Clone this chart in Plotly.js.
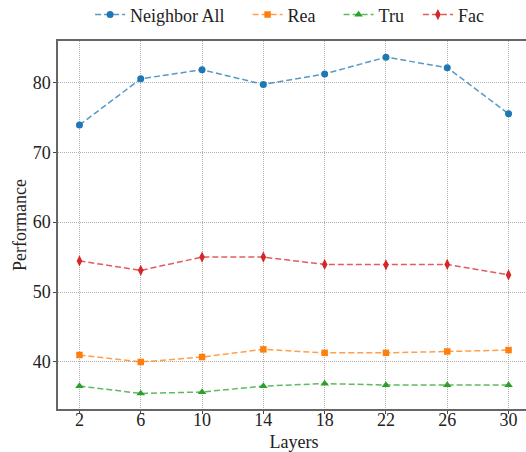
<!DOCTYPE html>
<html>
<head>
<meta charset="utf-8">
<script src="https://cdn.plot.ly/plotly-3.0.1.min.js"></script>
<style>
html,body{margin:0;padding:0;overflow:hidden;background:#fff;}
#chart{width:532px;height:452px;}
</style>
</head>
<body>
<div id="chart"></div>
<script>
const layers = [2, 6, 10, 14, 18, 22, 26, 30];
const neighborAll = [73.9, 80.5, 81.8, 79.7, 81.2, 83.6, 82.1, 75.5];
const rea = [41.0, 40.0, 40.7, 41.8, 41.3, 41.3, 41.5, 41.7];
const tru = [36.55, 35.5, 35.7, 36.55, 36.9, 36.7, 36.7, 36.7];
const fac = [54.45, 53.1, 55.0, 55.0, 53.95, 53.9, 53.95, 52.45];
const seriesNames = ['Neighbor All', 'Rea', 'Tru', 'Fac'];
const xTicks = [2, 6, 10, 14, 18, 22, 26, 30];
const yTicks = [40, 50, 60, 70, 80];

const nb = '\u00a0';
function series(name, padN, y, color, lineColor, symbol, size) {
  return {
    x: layers, y: y, name: name + nb.repeat(padN), type: 'scatter', mode: 'lines+markers',
    line: {color: lineColor, width: 1.5, dash: '6px,3px'},
    marker: {color: color, symbol: symbol, size: size}
  };
}

const data = [
  series(seriesNames[0], 4, neighborAll, '#1f77b4', 'rgba(31,119,180,0.75)', 'circle', 7),
  series(seriesNames[1], 4, rea, '#ff7f0e', 'rgba(255,127,14,0.75)', 'square', 6.5),
  series(seriesNames[2], 2, tru, '#2ca02c', 'rgba(44,160,44,0.75)', 'triangle-up', 7.5),
  series(seriesNames[3], 0, fac, '#d62728', 'rgba(214,39,40,0.75)', 'diamond-tall', 8)
];

const f = {family: 'Liberation Serif', size: 18, color: '#222'};
const layout = {
  width: 532, height: 452,
  margin: {l: 58, r: 2, t: 41, b: 43, pad: 0, autoexpand: false},
  paper_bgcolor: '#fff', plot_bgcolor: '#fff',
  font: f,
  showlegend: true,
  legend: {orientation: 'h', x: 0.068, xanchor: 'left', yref: 'container', y: 0.967, yanchor: 'middle',
           bgcolor: 'rgba(0,0,0,0)', font: f},
  xaxis: {
    range: [0.6, 31.4], tickmode: 'array', tickvals: xTicks, ticktext: xTicks.map(String),
    tickfont: f, automargin: false, ticklabelstandoff: -9,
    showgrid: true, gridcolor: '#b0b0b0', gridwidth: 1, griddash: '1px,1px',
    zeroline: false, showline: true, linecolor: '#666', linewidth: 1.6, mirror: true,
    ticks: 'outside', ticklen: 3, tickwidth: 1, tickcolor: '#444',
    title: {text: 'Layers', font: f, standoff: 6}
  },
  yaxis: {
    range: [33.27, 85.91], tickmode: 'array', tickvals: yTicks, ticktext: yTicks.map(String),
    tickfont: f, automargin: false, ticklabelstandoff: -1,
    showgrid: true, gridcolor: '#b0b0b0', gridwidth: 1, griddash: '1px,1px',
    zeroline: false, showline: true, linecolor: '#666', linewidth: 1.6, mirror: true,
    ticks: 'outside', ticklen: 3, tickwidth: 1, tickcolor: '#444',
    title: {text: 'Performance', font: f, standoff: 1}
  }
};

Plotly.newPlot('chart', data, layout, {displayModeBar: false, staticPlot: true});
</script>
</body>
</html>
